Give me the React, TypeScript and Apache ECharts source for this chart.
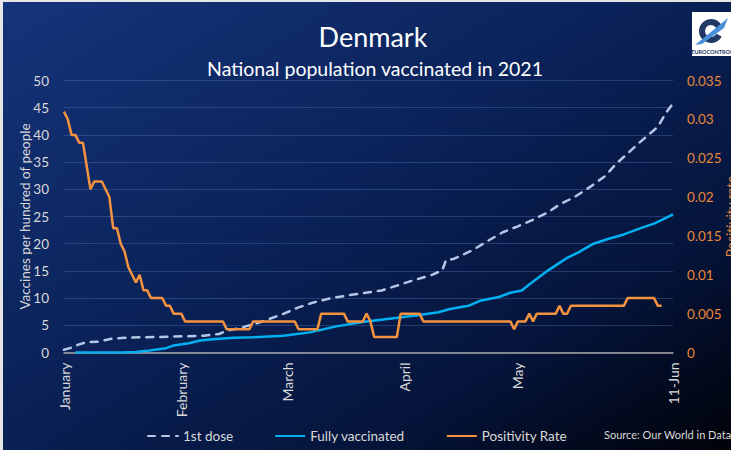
import React, { useEffect, useRef } from "react";
import * as echarts from "echarts";

// ---- Data ----
const xStartDate = "2021-01-01";
const xEndDate = "2021-06-11";
const xTickDates = ["2021-01-01", "2021-02-01", "2021-03-01", "2021-04-01", "2021-05-01", "2021-06-11"];
const xTickLabels = ["January", "February", "March", "April", "May", "11-Jun"];

const firstDoseDates = [
  "2021-01-01", "2021-01-03", "2021-01-05", "2021-01-07", "2021-01-10", "2021-01-14", "2021-01-21",
  "2021-01-29", "2021-02-07", "2021-02-11", "2021-02-13", "2021-02-17", "2021-02-20", "2021-02-22",
  "2021-02-28", "2021-03-04", "2021-03-08", "2021-03-12", "2021-03-17", "2021-03-21", "2021-03-26",
  "2021-03-30", "2021-04-03", "2021-04-08", "2021-04-11", "2021-04-12", "2021-04-14", "2021-04-19",
  "2021-04-23", "2021-04-27", "2021-05-01", "2021-05-05", "2021-05-09", "2021-05-12", "2021-05-16",
  "2021-05-20", "2021-05-24", "2021-05-27", "2021-05-30", "2021-06-02", "2021-06-05", "2021-06-07",
  "2021-06-09", "2021-06-11",
];
const firstDoseValues = [
  0.5, 0.9, 1.5, 1.9, 2.0, 2.6, 2.8,
  2.9, 3.1, 3.4, 4.0, 4.6, 5.2, 5.6,
  7.1, 8.3, 9.2, 9.9, 10.5, 10.9, 11.4,
  12.3, 13.2, 14.2, 15.1, 17.0, 17.2, 18.8,
  20.5, 22.1, 23.2, 24.4, 25.8, 27.2, 28.6,
  30.4, 32.4, 34.7, 36.6, 38.5, 40.3, 41.5,
  43.9, 45.8,
];

const fullyDates = [
  "2021-01-04", "2021-01-16", "2021-01-20", "2021-01-23", "2021-01-25", "2021-01-28", "2021-01-30",
  "2021-02-03", "2021-02-06", "2021-02-10", "2021-02-15", "2021-02-20", "2021-02-28", "2021-03-07",
  "2021-03-14", "2021-03-21", "2021-03-28", "2021-04-04", "2021-04-10", "2021-04-13", "2021-04-18",
  "2021-04-21", "2021-04-26", "2021-04-29", "2021-05-02", "2021-05-04", "2021-05-09", "2021-05-14",
  "2021-05-17", "2021-05-21", "2021-05-25", "2021-05-29", "2021-06-03", "2021-06-06", "2021-06-09",
  "2021-06-11",
];
const fullyValues = [
  0, 0, 0.1, 0.3, 0.5, 0.8, 1.3,
  1.7, 2.2, 2.5, 2.7, 2.8, 3.1, 3.7,
  4.8, 5.6, 6.2, 6.8, 7.4, 8.0, 8.6,
  9.5, 10.2, 11.0, 11.4, 12.5, 15.1, 17.4,
  18.4, 20.0, 20.9, 21.7, 23.0, 23.7, 24.7,
  25.4,
];

const positivityDates = [
  "2021-01-01", "2021-01-02", "2021-01-03", "2021-01-04", "2021-01-05", "2021-01-06", "2021-01-08",
  "2021-01-09", "2021-01-11", "2021-01-13", "2021-01-14", "2021-01-15", "2021-01-16", "2021-01-17",
  "2021-01-18", "2021-01-20", "2021-01-21", "2021-01-22", "2021-01-23", "2021-01-24", "2021-01-27",
  "2021-01-28", "2021-01-29", "2021-01-30", "2021-02-01", "2021-02-02", "2021-02-12", "2021-02-13",
  "2021-02-19", "2021-02-20", "2021-03-03", "2021-03-04", "2021-03-09", "2021-03-10", "2021-03-16",
  "2021-03-17", "2021-03-21", "2021-03-22", "2021-03-23", "2021-03-24", "2021-03-30", "2021-03-31",
  "2021-04-05", "2021-04-06", "2021-04-29", "2021-04-30", "2021-05-01", "2021-05-03", "2021-05-04",
  "2021-05-05", "2021-05-06", "2021-05-11", "2021-05-12", "2021-05-13", "2021-05-14", "2021-05-15",
  "2021-05-29", "2021-05-30", "2021-06-06", "2021-06-07", "2021-06-08",
];
const positivityValues = [
  0.031, 0.030, 0.028, 0.028, 0.027, 0.027, 0.021,
  0.022, 0.022, 0.020, 0.016, 0.016, 0.014, 0.013,
  0.011, 0.009, 0.010, 0.008, 0.008, 0.007, 0.007,
  0.006, 0.006, 0.005, 0.005, 0.004, 0.004, 0.003,
  0.003, 0.004, 0.004, 0.003, 0.003, 0.005, 0.005,
  0.004, 0.004, 0.005, 0.004, 0.002, 0.002, 0.005,
  0.005, 0.004, 0.004, 0.003, 0.004, 0.004, 0.005,
  0.004, 0.005, 0.005, 0.006, 0.005, 0.005, 0.006,
  0.006, 0.007, 0.007, 0.006, 0.006,
];

const leftTicks = { min: 0, max: 50, interval: 5 };
const rightTicks = { min: 0, max: 0.035, interval: 0.005 };

const FONT = "Lato";
const LIGHT = "#d9d9d9";
const ORANGE = "#F4923F";
const ORANGE_TXT = "#E8883A";
const CYAN = "#00B0F0";
const DOSE = "#B4C7E7";

const zip = (d: string[], v: number[]) => d.map((x, i) => [x, v[i]]);

function dayCategories(start: string, end: string): string[] {
  const out: string[] = [];
  const d = new Date(start + "T00:00:00Z");
  const e = new Date(end + "T00:00:00Z");
  while (d.getTime() <= e.getTime()) {
    out.push(d.toISOString().slice(0, 10));
    d.setUTCDate(d.getUTCDate() + 1);
  }
  return out;
}

export default function App() {
  const ref = useRef<HTMLDivElement>(null);
  useEffect(() => {
    if (!ref.current) return;
    const chart = echarts.init(ref.current, undefined, { renderer: "svg" });
    const categories = dayCategories(xStartDate, xEndDate);
    const option: any = {
      animation: false,
      backgroundColor: {
        type: "linear",
        x: 0,
        y: 0,
        x2: 1,
        y2: 1,
        colorStops: [
          { offset: 0, color: "#15347a" },
          { offset: 0.45, color: "#0a2258" },
          { offset: 0.75, color: "#05143a" },
          { offset: 1, color: "#000208" },
        ],
      },
      textStyle: { fontFamily: FONT },
      grid: {
        left: 64,
        right: 58,
        top: 80.5,
        bottom: 97.5,
        containLabel: false,
        outerBoundsMode: "none",
      },
      legend: {
        left: 142,
        top: 424,
        itemWidth: 30,
        itemHeight: 14,
        itemGap: 41,
        itemStyle: { opacity: 0 },
        textStyle: { color: LIGHT, fontSize: 13.5, fontFamily: FONT },
        data: ["1st dose", "Fully vaccinated", "Positivity Rate"],
      },
      xAxis: {
        type: "category",
        data: categories,
        boundaryGap: false,
        axisLine: { lineStyle: { color: "#a6a6a6", width: 1.5 } },
        axisTick: { show: false },
        splitLine: { show: false },
        axisLabel: {
          interval: (_i: number, v: string) => xTickDates.indexOf(v) >= 0,
          rotate: 90,
          margin: 10,
          color: LIGHT,
          fontSize: 14,
          fontFamily: FONT,
          formatter: (v: string) => {
            const i = xTickDates.indexOf(v);
            return i >= 0 ? xTickLabels[i] : "";
          },
        },
      },
      yAxis: [
        {
          type: "value",
          ...leftTicks,
          name: "Vaccines per hundred of people",
          nameLocation: "middle",
          nameRotate: 90,
          nameGap: 32,
          nameMoveOverlap: false,
          nameTextStyle: { color: LIGHT, fontSize: 13.5, fontFamily: FONT },
          axisLine: { show: false },
          axisTick: { show: false },
          axisLabel: { color: LIGHT, fontSize: 13.5, margin: 15, fontFamily: FONT },
          splitLine: { lineStyle: { color: "rgba(110,150,215,0.28)", width: 1 } },
        },
        {
          type: "value",
          ...rightTicks,
          position: "right",
          name: "Positivity rate",
          nameLocation: "middle",
          nameRotate: 90,
          nameGap: 51,
          nameMoveOverlap: false,
          nameTextStyle: { color: ORANGE_TXT, fontSize: 13.5, fontFamily: FONT },
          axisLine: { show: false },
          axisTick: { show: false },
          axisLabel: { color: ORANGE_TXT, fontSize: 13.5, margin: 14, fontFamily: FONT },
          splitLine: { show: false },
        },
      ],
      series: [
        {
          name: "1st dose",
          type: "line",
          symbol: "none",
          data: zip(firstDoseDates, firstDoseValues),
          lineStyle: { color: DOSE, width: 2.5, type: [7, 7], cap: "round" },
          itemStyle: { color: DOSE },
          z: 3,
        },
        {
          name: "Fully vaccinated",
          type: "line",
          symbol: "none",
          data: zip(fullyDates, fullyValues),
          lineStyle: { color: CYAN, width: 2.5 },
          itemStyle: { color: CYAN },
          z: 4,
        },
        {
          name: "Positivity Rate",
          type: "line",
          symbol: "none",
          yAxisIndex: 1,
          data: zip(positivityDates, positivityValues),
          lineStyle: { color: ORANGE, width: 2.5 },
          itemStyle: { color: ORANGE },
          z: 5,
        },
      ],
      graphic: [
        { type: "rect", shape: { x: 0, y: 0, width: 731, height: 2 }, style: { fill: "#e6e6e6" }, z: 100 },
        { type: "rect", shape: { x: 0, y: 0, width: 3, height: 450 }, style: { fill: "#e6e6e6" }, z: 100 },
        {
          type: "text",
          x: 373,
          y: 36,
          style: {
            text: "Denmark",
            fill: "#ffffff",
            font: `27px ${FONT}`,
            textAlign: "center",
            textVerticalAlign: "middle",
          },
        },
        {
          type: "text",
          x: 375,
          y: 68,
          style: {
            text: "National population vaccinated in 2021",
            fill: "#ffffff",
            font: `19.5px ${FONT}`,
            textAlign: "center",
            textVerticalAlign: "middle",
          },
        },
        {
          type: "text",
          x: 604,
          y: 434,
          style: {
            text: "Source: Our World in Data",
            fill: LIGHT,
            font: `11px ${FONT}`,
            textAlign: "left",
            textVerticalAlign: "middle",
          },
        },
        // Logo
        { type: "rect", shape: { x: 692, y: 12, width: 40, height: 44 }, style: { fill: "#ffffff" }, z: 50 },
        {
          type: "arc",
          shape: { cx: 711, cy: 31, r: 9, startAngle: Math.PI * 0.15, endAngle: Math.PI * 1.85 },
          style: { stroke: "#1f3864", lineWidth: 6, fill: "none" },
          z: 51,
        },
        {
          type: "polygon",
          shape: { points: [[695, 45], [728, 18], [724, 28], [702, 44]] },
          style: { fill: "#4a90d9" },
          z: 52,
        },
        {
          type: "text",
          x: 712,
          y: 52,
          style: {
            text: "EUROCONTROL",
            fill: "#1f3864",
            font: `bold 5.5px ${FONT}`,
            textAlign: "center",
            textVerticalAlign: "middle",
          },
          z: 52,
        },
      ],
    };
    chart.setOption(option);
    return () => chart.dispose();
  }, []);
  return (
    <div
      ref={ref}
      style={{ position: "fixed", left: 0, top: 0, width: 731, height: 450 }}
    />
  );
}
